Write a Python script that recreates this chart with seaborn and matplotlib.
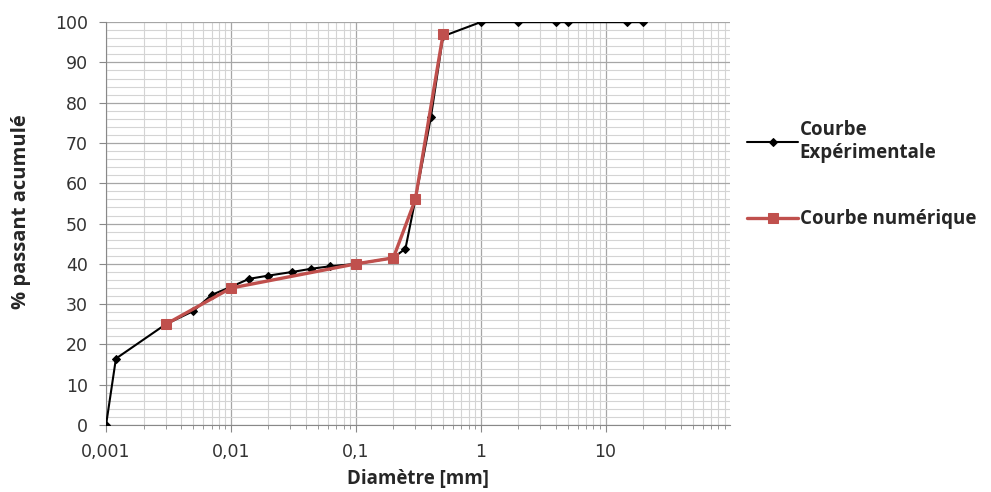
import seaborn as sns
import matplotlib.pyplot as plt
import matplotlib.ticker as mticker
import pandas as pd

# courbe experimentale
exp_diam = [0.001, 0.0012, 0.003, 0.005, 0.007, 0.01, 0.014, 0.02, 0.031, 0.044, 0.062,
            0.1, 0.2, 0.25, 0.3, 0.4, 0.5, 1, 2, 4, 5, 15, 20]
exp_pass = [0, 16.5, 25, 28.3, 32.3, 34.3, 36.3, 37.1, 38.0, 38.8, 39.4,
            40, 41.5, 43.8, 56, 76.5, 96.5, 100, 100, 100, 100, 100, 100]

# courbe numerique
num_diam = [0.003, 0.01, 0.1, 0.2, 0.3, 0.5]
num_pass = [25, 34, 40, 41.5, 56, 97]

labels_exp = "Courbe\nExpérimentale"
labels_num = "Courbe numérique"

df_exp = pd.DataFrame({"d": exp_diam, "p": exp_pass})
df_num = pd.DataFrame({"d": num_diam, "p": num_pass})

sns.set_style("white")
plt.rcParams["font.family"] = ["Open Sans", "DejaVu Sans"]

fig, ax = plt.subplots(figsize=(9.91, 4.92), dpi=100)
fig.subplots_adjust(left=0.107, right=0.737, top=0.955, bottom=0.136)

sns.lineplot(data=df_exp, x="d", y="p", ax=ax, color="black", linewidth=1.5,
             marker="D", markersize=4.5, markeredgecolor="black", sort=False,
             label=labels_exp, zorder=3)
sns.lineplot(data=df_num, x="d", y="p", ax=ax, color="#C0504D", linewidth=2.4,
             marker="s", markersize=6.5, markeredgecolor="#C0504D", sort=False,
             label=labels_num, zorder=4)

ax.set_xscale("log")
ax.set_xlim(0.001, 100)
ax.set_ylim(0, 100)
ax.set_yticks(range(0, 101, 10))
ax.yaxis.set_minor_locator(mticker.MultipleLocator(2))
ax.xaxis.set_major_locator(mticker.FixedLocator([0.001, 0.01, 0.1, 1, 10]))
ax.xaxis.set_major_formatter(mticker.FixedFormatter(["0,001", "0,01", "0,1", "1", "10"]))
ax.xaxis.set_minor_locator(mticker.LogLocator(base=10, subs=range(2, 10)))
ax.xaxis.set_minor_formatter(mticker.NullFormatter())

ax.grid(which="major", color="#a6a6a6", linewidth=0.9)
ax.grid(which="minor", color="#d4d4d4", linewidth=0.8)
ax.set_axisbelow(True)
for s in ["top", "right"]:
    ax.spines[s].set_visible(False)
for s in ["left", "bottom"]:
    ax.spines[s].set_color("#888888")

ax.tick_params(axis="both", which="major", labelsize=12.5, color="#888888",
               length=5, direction="out", bottom=True, left=True, pad=8)
ax.tick_params(axis="x", which="minor", color="#888888", length=3, bottom=True)
for t in ax.get_xticklabels() + ax.get_yticklabels():
    t.set_fontfamily("DejaVu Sans")
    t.set_color("#333333")

ax.set_xlabel("Diamètre [mm]", fontsize=13.5, fontweight="bold", labelpad=6)
ax.set_ylabel("% passant acumulé", fontsize=14.5, fontweight="bold")
ax.yaxis.set_label_coords(-0.12, 0.53)

ax.legend(loc="upper left", bbox_to_anchor=(1.0, 0.8), frameon=False,
          prop={"size": 13.5, "weight": "bold"}, labelspacing=2.5,
          handlelength=2.7, handletextpad=0.1)

plt.savefig("out.png", dpi=100)
